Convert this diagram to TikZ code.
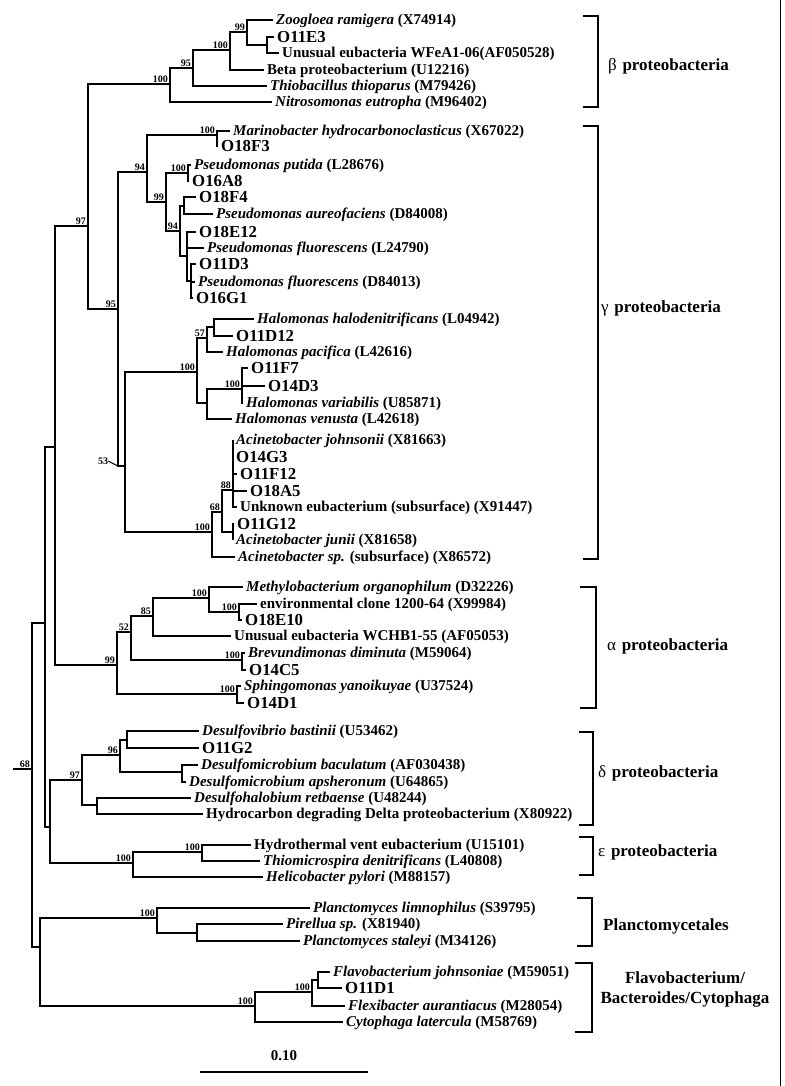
\documentclass[tikz,border=0pt]{standalone}
\usepackage{fontspec}
\setmainfont{Liberation Serif}
\usepackage{tikz}
\usetikzlibrary{positioning,calc}
\newcommand{\spfont}{\fontsize{15}{17}\selectfont\bfseries}
\newcommand{\stfont}{\fontsize{16.8}{19}\selectfont\bfseries}
\newcommand{\btfont}{\fontsize{10}{12}\selectfont\bfseries}
\newcommand{\clfont}{\fontsize{17}{20}\selectfont\bfseries}

\begin{document}
\begin{tikzpicture}[
  x=1pt, y=-1pt,
  branch/.style={line width=2.3pt},
  taxon/.style={anchor=west, inner xsep=3pt, inner ysep=0pt, text height=12pt, text depth=2.25pt, font=\spfont},
  isolate/.style={anchor=west, inner xsep=3pt, inner ysep=0pt, text height=13.4pt, text depth=2.5pt, font=\stfont},
  boot/.style={inner sep=0pt, font=\btfont},
  bracket/.style={line width=2.3pt},
  cladename/.style={anchor=west, inner sep=0pt, align=center, font=\clfont}
]
\useasboundingbox (0,0) rectangle (784,1086);

% internal nodes
\coordinate (STUB) at (13,769);
\coordinate (ROOT) at (32,769);
\coordinate (NA) at (45,623);
\coordinate (NB) at (55,447);
\coordinate (N97) at (88,226);
\coordinate (NB100) at (170,84);
\coordinate (NB95) at (193,68);
\coordinate (NB100A) at (230,50);
\coordinate (NB99) at (247,32);
\coordinate (NO11E3) at (267,45);
\coordinate (N95G) at (118,309);
\coordinate (N94) at (147,172);
\coordinate (NMAR) at (217,135);
\coordinate (N99P) at (166,202);
\coordinate (NPUT) at (188,173);
\coordinate (N94P) at (180,231);
\coordinate (NF4) at (184,206);
\coordinate (NE12) at (187,256);
\coordinate (ND3) at (191,281);
\coordinate (N53) at (125,466);
\coordinate (NH100) at (197,372);
\coordinate (NH57) at (207,338);
\coordinate (NH57B) at (214,327);
\coordinate (NH2) at (207,403);
\coordinate (NH100B) at (242,389);
\coordinate (NAC100) at (212,532);
\coordinate (NAC68) at (222,512);
\coordinate (NAC88) at (233,490);
\coordinate (NACP) at (233,532);
\coordinate (NAL99) at (117,665);
\coordinate (NAL52) at (131,632);
\coordinate (NAL85) at (153,616);
\coordinate (NAL100) at (209,598);
\coordinate (NAL100B) at (239,612);
\coordinate (NBRE) at (242,660);
\coordinate (NSPH) at (237,694);
\coordinate (NDE) at (50,827);
\coordinate (ND97) at (82,780);
\coordinate (ND96) at (120,755);
\coordinate (NDA) at (127,740);
\coordinate (NDM) at (182,772);
\coordinate (NDB) at (97,805);
\coordinate (NE100) at (133,863);
\coordinate (NE100B) at (202,852);
\coordinate (NPF) at (40,947);
\coordinate (NPL100) at (157,918);
\coordinate (NPL2) at (197,933);
\coordinate (NFL100) at (255,1006);
\coordinate (NFL2) at (312,992);
\coordinate (NFL3) at (318,980);

% beta
\node[taxon] (ZRAM) at (273,20) {\textit{Zoogloea ramigera} (X74914)};
\node[isolate] (O11E3) at (274,37) {O11E3};
\node[taxon] (WFEA) at (279,53) {Unusual eubacteria WFeA1-06(AF050528)};
\node[taxon] (BETA) at (264,70) {Beta proteobacterium (U12216)};
\node[taxon] (TTHIO) at (267,86) {\textit{Thiobacillus thioparus} (M79426)};
\node[taxon] (NEUT) at (272,102) {\textit{Nitrosomonas eutropha} (M96402)};
% gamma
\node[taxon] (MHYD) at (230,131) {\textit{Marinobacter hydrocarbonoclasticus} (X67022)};
\node[isolate] (O18F3) at (218,146) {O18F3};
\node[taxon] (PPUT) at (191,165) {\textit{Pseudomonas putida} (L28676)};
\node[isolate] (O16A8) at (189,181) {O16A8};
\node[isolate] (O18F4) at (196,197) {O18F4};
\node[taxon] (PAUR) at (213,214) {\textit{Pseudomonas aureofaciens} (D84008)};
\node[isolate] (O18E12) at (196,232) {O18E12};
\node[taxon] (PFL1) at (204,248) {\textit{Pseudomonas fluorescens} (L24790)};
\node[isolate] (O11D3) at (196,264) {O11D3};
\node[taxon] (PFL2) at (195,282) {\textit{Pseudomonas fluorescens} (D84013)};
\node[isolate] (O16G1) at (193,298) {O16G1};
\node[taxon] (HHAL) at (254,319) {\textit{Halomonas halodenitrificans} (L04942)};
\node[isolate] (O11D12) at (233,336) {O11D12};
\node[taxon] (HPAC) at (223,352) {\textit{Halomonas pacifica} (L42616)};
\node[isolate] (O11F7) at (248,368) {O11F7};
\node[isolate] (O14D3) at (265,386) {O14D3};
\node[taxon] (HVAR) at (243,403) {\textit{Halomonas variabilis} (U85871)};
\node[taxon] (HVEN) at (232,419) {\textit{Halomonas venusta} (L42618)};
\node[taxon] (ACJO) at (233,440) {\textit{Acinetobacter johnsonii} (X81663)};
\node[isolate] (O14G3) at (233,457) {O14G3};
\node[isolate] (O11F12) at (237,474) {O11F12};
\node[isolate] (O18A5) at (247,491) {O18A5};
\node[taxon] (UNK) at (237,507) {Unknown eubacterium (subsurface) (X91447)};
\node[isolate] (O11G12) at (234,524) {O11G12};
\node[taxon] (ACJU) at (233,540) {\textit{Acinetobacter junii} (X81658)};
\node[taxon] (ACSP) at (235,557) {\textit{Acinetobacter sp.} (subsurface) (X86572)};
% alpha
\node[taxon] (MORG) at (243,587) {\textit{Methylobacterium organophilum} (D32226)};
\node[taxon] (ENV) at (257,604) {environmental clone 1200-64 (X99984)};
\node[isolate] (O18E10) at (242,620) {O18E10};
\node[taxon] (WCHB) at (231,636) {Unusual eubacteria WCHB1-55 (AF05053)};
\node[taxon] (BDIM) at (245,653) {\textit{Brevundimonas diminuta} (M59064)};
\node[isolate] (O14C5) at (246,670) {O14C5};
\node[taxon] (SYAN) at (241,686) {\textit{Sphingomonas yanoikuyae} (U37524)};
\node[isolate] (O14D1) at (244,703) {O14D1};
% delta, epsilon
\node[taxon] (DBAS) at (199,731) {\textit{Desulfovibrio bastinii} (U53462)};
\node[isolate] (O11G2) at (199,748) {O11G2};
\node[taxon] (DBAC) at (198,765) {\textit{Desulfomicrobium baculatum} (AF030438)};
\node[taxon] (DAPS) at (186,782) {\textit{Desulfomicrobium apsheronum} (U64865)};
\node[taxon] (DRET) at (191,798) {\textit{Desulfohalobium retbaense} (U48244)};
\node[taxon] (HCDD) at (203,814) {Hydrocarbon degrading Delta proteobacterium (X80922)};
\node[taxon] (HVENT) at (251,845) {Hydrothermal vent eubacterium (U15101)};
\node[taxon] (TDEN) at (260,861) {\textit{Thiomicrospira denitrificans} (L40808)};
\node[taxon] (HPYL) at (263,877) {\textit{Helicobacter pylori} (M88157)};
% planctomycetales, flavobacteria
\node[taxon] (PLIM) at (310,908) {\textit{Planctomyces limnophilus} (S39795)};
\node[taxon] (PIRE) at (283,924) {\textit{Pirellua sp.} (X81940)};
\node[taxon] (PSTA) at (300,941) {\textit{Planctomyces staleyi} (M34126)};
\node[taxon] (FJOH) at (330,972) {\textit{Flavobacterium johnsoniae} (M59051)};
\node[isolate] (O11D1) at (342,988) {O11D1};
\node[taxon] (FAUR) at (345,1006) {\textit{Flexibacter aurantiacus} (M28054)};
\node[taxon] (CLAT) at (343,1022) {\textit{Cytophaga latercula} (M58769)};

% branches
\draw[branch] (STUB) -- (ROOT);
\draw[branch] (ROOT) |- (NA) (ROOT) |- (NPF);
\draw[branch] (NA) |- (NB) (NA) |- (NDE);
\draw[branch] (NB) |- (N97) (NB) |- (NAL99);
\draw[branch] (N97) |- (NB100) (N97) |- (N95G);
\draw[branch] (NB100) |- (NB95) (NB100) |- (NEUT.west);
\draw[branch] (NB95) |- (NB100A) (NB95) |- (TTHIO.west);
\draw[branch] (NB100A) |- (NB99) (NB100A) |- (BETA.west);
\draw[branch] (NB99) |- (ZRAM.west) (NB99) |- (NO11E3);
\draw[branch] (NO11E3) |- (O11E3.west) (NO11E3) |- (WFEA.west);
\draw[branch] (N95G) |- (N94) (N95G) |- (N53);
\draw[branch] (N94) |- (NMAR) (N94) |- (N99P);
\draw[branch] (NMAR) |- (MHYD.west) (NMAR) |- (O18F3.west);
\draw[branch] (N99P) |- (NPUT) (N99P) |- (N94P);
\draw[branch] (NPUT) |- (PPUT.west) (NPUT) |- (O16A8.west);
\draw[branch] (N94P) |- (NF4) (N94P) |- (NE12);
\draw[branch] (NF4) |- (O18F4.west) (NF4) |- (PAUR.west);
\draw[branch] (NE12) |- (O18E12.west) (NE12) |- (PFL1.west) (NE12) |- (ND3);
\draw[branch] (ND3) |- (O11D3.west) (ND3) |- (PFL2.west) (ND3) |- (O16G1.west);
\draw[branch] (N53) |- (NH100) (N53) |- (NAC100);
\draw[branch] (NH100) |- (NH57) (NH100) |- (NH2);
\draw[branch] (NH57) |- (NH57B) (NH57) |- (HPAC.west);
\draw[branch] (NH57B) |- (HHAL.west) (NH57B) |- (O11D12.west);
\draw[branch] (NH2) |- (NH100B) (NH2) |- (HVEN.west);
\draw[branch] (NH100B) |- (O11F7.west) (NH100B) |- (O14D3.west) (NH100B) |- (HVAR.west);
\draw[branch] (NAC100) |- (NAC68) (NAC100) |- (ACSP.west);
\draw[branch] (NAC68) |- (NAC88) (NAC68) |- (NACP);
\draw[branch] (NAC88) |- (ACJO.west) (NAC88) |- (O14G3.west) (NAC88) |- (O11F12.west) (NAC88) |- (O18A5.west) (NAC88) |- (UNK.west);
\draw[branch] (NACP) |- (O11G12.west) (NACP) |- (ACJU.west);
\draw[branch] (NAL99) |- (NAL52) (NAL99) |- (NSPH);
\draw[branch] (NAL52) |- (NAL85) (NAL52) |- (NBRE);
\draw[branch] (NAL85) |- (NAL100) (NAL85) |- (WCHB.west);
\draw[branch] (NAL100) |- (MORG.west) (NAL100) |- (NAL100B);
\draw[branch] (NAL100B) |- (ENV.west) (NAL100B) |- (O18E10.west);
\draw[branch] (NBRE) |- (BDIM.west) (NBRE) |- (O14C5.west);
\draw[branch] (NSPH) |- (SYAN.west) (NSPH) |- (O14D1.west);
\draw[branch] (NDE) |- (ND97) (NDE) |- (NE100);
\draw[branch] (ND97) |- (ND96) (ND97) |- (NDB);
\draw[branch] (ND96) |- (NDA) (ND96) |- (NDM);
\draw[branch] (NDA) |- (DBAS.west) (NDA) |- (O11G2.west);
\draw[branch] (NDM) |- (DBAC.west) (NDM) |- (DAPS.west);
\draw[branch] (NDB) |- (DRET.west) (NDB) |- (HCDD.west);
\draw[branch] (NE100) |- (NE100B) (NE100) |- (HPYL.west);
\draw[branch] (NE100B) |- (HVENT.west) (NE100B) |- (TDEN.west);
\draw[branch] (NPF) |- (NPL100) (NPF) |- (NFL100);
\draw[branch] (NPL100) |- (PLIM.west) (NPL100) |- (NPL2);
\draw[branch] (NPL2) |- (PIRE.west) (NPL2) |- (PSTA.west);
\draw[branch] (NFL100) |- (NFL2) (NFL100) |- (CLAT.west);
\draw[branch] (NFL2) |- (NFL3) (NFL2) |- (FAUR.west);
\draw[branch] (NFL3) |- (FJOH.west) (NFL3) |- (O11D1.west);

% bootstrap values
\node[boot, above left=1.5pt and 2pt of ROOT] {68};
\node[boot, above left=1.5pt and 2pt of N97] {97};
\node[boot, above left=1.5pt and 2pt of NB100] {100};
\node[boot, above left=1.5pt and 2pt of NB95] {95};
\node[boot, above left=1.5pt and 2pt of NB100A] {100};
\node[boot, above left=1.5pt and 2pt of NB99] {99};
\node[boot, above left=1.5pt and 2pt of N95G] {95};
\node[boot, above left=1.5pt and 2pt of N94] {94};
\node[boot, above left=1.5pt and 2pt of NMAR] {100};
\node[boot, above left=1.5pt and 2pt of N99P] {99};
\node[boot, above left=1.5pt and 2pt of NPUT] {100};
\node[boot, above left=1.5pt and 2pt of N94P] {94};
\node[boot] (L53) at (103,461) {53};
\draw[line width=1pt] (L53.east) -- (N95G |- N53);
\node[boot, above left=1.5pt and 2pt of NH100] {100};
\node[boot, above left=1.5pt and 2pt of NH57] {57};
\node[boot, above left=1.5pt and 2pt of NH100B] {100};
\node[boot, above left=1.5pt and 2pt of NAC100] {100};
\node[boot, above left=1.5pt and 2pt of NAC68] {68};
\node[boot, above left=1.5pt and 2pt of NAC88] {88};
\node[boot, above left=1.5pt and 2pt of NAL99] {99};
\node[boot, above left=1.5pt and 2pt of NAL52] {52};
\node[boot, above left=1.5pt and 2pt of NAL85] {85};
\node[boot, above left=1.5pt and 2pt of NAL100] {100};
\node[boot, above left=1.5pt and 2pt of NAL100B] {100};
\node[boot, above left=1.5pt and 2pt of NBRE] {100};
\node[boot, above left=1.5pt and 2pt of NSPH] {100};
\node[boot, above left=1.5pt and 2pt of ND97] {97};
\node[boot, above left=1.5pt and 2pt of ND96] {96};
\node[boot, above left=1.5pt and 2pt of NE100] {100};
\node[boot, above left=1.5pt and 2pt of NE100B] {100};
\node[boot, above left=1.5pt and 2pt of NPL100] {100};
\node[boot, above left=1.5pt and 2pt of NFL100] {100};
\node[boot, above left=1.5pt and 2pt of NFL2] {100};

% clade brackets
\coordinate (BETT) at (583,16);   \coordinate (BETB) at (583,107);
\coordinate (GAMT) at (583,126);  \coordinate (GAMB) at (583,559);
\coordinate (ALPT) at (580,587);  \coordinate (ALPB) at (580,708);
\coordinate (DELT) at (579,732);  \coordinate (DELB) at (579,825);
\coordinate (EPST) at (579,837);  \coordinate (EPSB) at (579,875);
\coordinate (PLAT) at (577,898);  \coordinate (PLAB) at (577,946);
\coordinate (FLAT) at (575,963);  \coordinate (FLAB) at (575,1032);
\draw[bracket] (BETT) -- ++(15,0) |- (BETB);
\draw[bracket] (GAMT) -- ++(15,0) |- (GAMB);
\draw[bracket] (ALPT) -- ++(16,0) |- (ALPB);
\draw[bracket] (DELT) -- ++(14,0) |- (DELB);
\draw[bracket] (EPST) -- ++(14,0) |- (EPSB);
\draw[bracket] (PLAT) -- ++(15,0) |- (PLAB);
\draw[bracket] (FLAT) -- ++(17,0) |- (FLAB);
\node[cladename] (BETN) at (608,66) {{\mdseries β}\,\,proteobacteria};
\node[cladename] (GAMN) at (601,308) {{\mdseries γ}\,\,proteobacteria};
\node[cladename] (ALPN) at (607,646) {{\mdseries α}\,\,proteobacteria};
\node[cladename] (DELN) at (598,773) {{\mdseries δ}\,\,proteobacteria};
\node[cladename] (EPSN) at (598,852) {{\mdseries ε}\,\,proteobacteria};
\node[cladename] (PLAN) at (603,926) {Planctomycetales};
\node[cladename, anchor=center] (FLAN) at (685,989) {Flavobacterium/\\Bacteroides/Cytophaga};

% scale bar
\coordinate (SBL) at (200,1072);
\coordinate (SBR) at (368,1072);
\draw[branch] (SBL) -- (SBR);
\node[font=\spfont, above=8pt of $(SBL)!0.5!(SBR)$] (SCALE) {0.10};

% frame edge
\coordinate (EDGT) at (780,0);
\coordinate (EDGB) at (780,1086);
\draw[line width=1pt] (EDGT) -- (EDGB);
\end{tikzpicture}
\end{document}
